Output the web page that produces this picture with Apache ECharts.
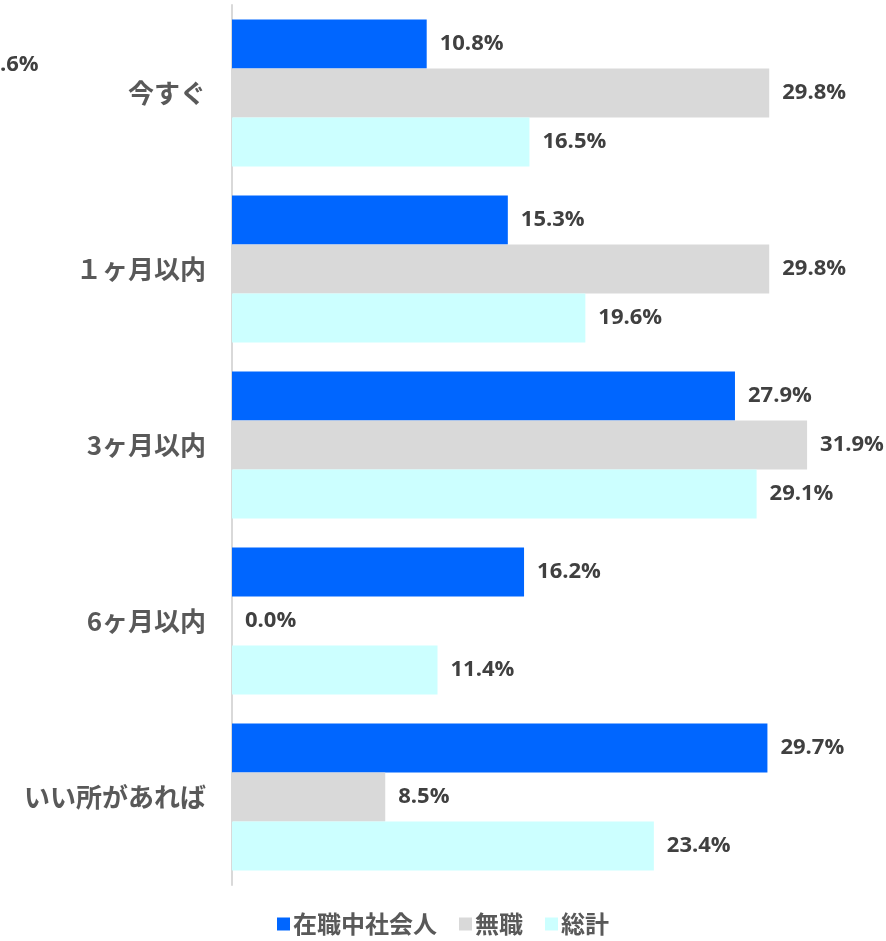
<!DOCTYPE html>
<html lang="ja">
<head>
<meta charset="UTF-8">
<title>chart</title>
<script src="https://cdn.jsdelivr.net/npm/echarts@6/dist/echarts.min.js"></script>
<style>
  html, body { margin: 0; padding: 0; background: #fff; }
  #main { width: 886px; height: 941px; }
</style>
</head>
<body>
<div id="main"></div>
<script>
  let categories = ['今すぐ', '１ヶ月以内', '3ヶ月以内', '6ヶ月以内', 'いい所があれば'];
  let seriesNames = ['在職中社会人', '無職', '総計'];
  let employed = [10.8, 15.3, 27.9, 16.2, 29.7];
  let unemployed = [29.8, 29.8, 31.9, 0.0, 8.5];
  let total = [16.5, 19.6, 29.1, 11.4, 23.4];
  let colors = ['#0066ff', '#d9d9d9', '#ccffff'];

  let cjkFont = '"Noto Sans CJK JP", "Noto Sans", sans-serif';
  let numFont = '"Open Sans", "Noto Sans", sans-serif';
  let myChart = echarts.init(document.getElementById('main'));

  let seriesConfig = [employed, unemployed, total].map(function (vals, i) {
    return {
      name: seriesNames[i],
      type: 'bar',
      data: vals,
      barGap: '0%',
      barCategoryGap: '16.5%',
      itemStyle: { color: colors[i] },
      label: {
        show: true,
        position: 'right',
        distance: 13,
        color: '#404040',
        fontSize: 22,
        fontWeight: 'bold',
        fontFamily: numFont,
        formatter: function (p) { return p.value.toFixed(1) + '%'; }
      }
    };
  });

  myChart.setOption({
    animation: false,
    color: colors,
    grid: { left: 232, right: 5, top: 5, bottom: 56 },
    xAxis: {
      type: 'value',
      min: 0,
      max: 36,
      show: false
    },
    yAxis: {
      type: 'category',
      inverse: true,
      data: categories,
      axisLine: { show: true, lineStyle: { color: '#d9d9d9', width: 2 } },
      axisTick: { show: false },
      axisLabel: {
        margin: 26,
        color: '#595959',
        fontSize: 26,
        fontWeight: 'bold',
        fontFamily: cjkFont
      }
    },
    legend: {
      bottom: 0,
      left: 'center',
      itemWidth: 13,
      itemHeight: 13,
      itemGap: 22,
      icon: 'rect',
      textStyle: { color: '#595959', fontSize: 24, fontWeight: 'bold', fontFamily: cjkFont, padding: [0, 0, 0, -2] },
      data: seriesNames
    },
    graphic: [{
      type: 'text',
      left: 0,
      top: 54,
      style: { text: '.6%', fill: '#404040', fontSize: 22, fontWeight: 'bold', fontFamily: numFont }
    }],
    series: seriesConfig
  });
</script>
</body>
</html>
